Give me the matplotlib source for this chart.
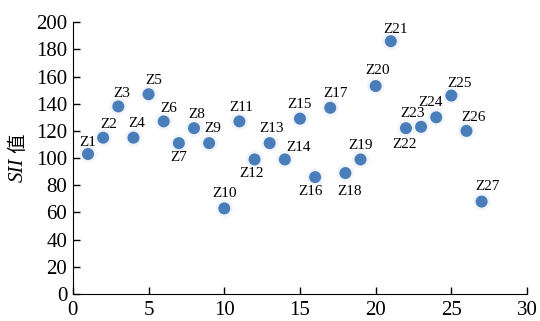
import matplotlib
matplotlib.use('Agg')
import matplotlib.pyplot as plt

plt.rcParams['font.family'] = ['Liberation Serif', 'Noto Sans CJK SC']

labels = ['Z%d' % i for i in range(1, 28)]
x = list(range(1, 28))
sii = [103, 115, 138, 115, 147, 127, 111, 122, 111, 63,
       127, 99, 111, 99, 129, 86, 137, 89, 99, 153,
       186, 122, 123, 130, 146, 120, 68]

# label offsets in pixels (dx, dy)
offsets = [(0, 12), (6, 13), (3, 13), (3, 14), (5, 14), (5, 13), (0, -14), (3, 14), (4, 15), (0, 15),
           (2, 14), (-3, -14), (2, 15), (14, 12), (0, 14), (-5, -14), (5, 14), (4, -18), (0, 14), (2, 16),
           (5, 12), (-1, -16), (-9, 13), (-6, 15), (8, 12), (7, 13), (6, 15)]

fig = plt.figure(figsize=(5.4, 3.21), dpi=100)
ax = fig.add_axes([0.135, 0.084, 0.841, 0.847])

ax.scatter(x, sii, s=160, color='#e8eef6', alpha=0.6, edgecolors='none', zorder=2)
ax.scatter(x, sii, s=75, color='#4a7ebb', edgecolors='none', zorder=3)

for xi, yi, lab, (dx, dy) in zip(x, sii, labels, offsets):
    ax.annotate(lab, (xi, yi), xytext=(dx, dy), textcoords='offset pixels',
                ha='center', va='center', fontsize=11)

ax.set_xlim(0, 30)
ax.set_ylim(0, 200)
ax.set_xticks(range(0, 31, 5))
ax.set_yticks(range(0, 201, 20))
ax.tick_params(direction='in', labelsize=15, length=5, width=1)
ax.tick_params(axis='x', pad=5)
ax.tick_params(axis='y', pad=4)
ax.spines['top'].set_visible(False)
ax.spines['right'].set_visible(False)

# y label: italic SII plus upright 值
fig.text(18 / 540, 1 - 170 / 321, 'SII', rotation=90, style='italic', fontsize=15,
         ha='center', va='center')
fig.text(18 / 540, 1 - 143 / 321, '值', rotation=90, fontsize=14,
         family=['Noto Sans CJK SC'], ha='center', va='center')

fig.savefig('out.png', dpi=100)
